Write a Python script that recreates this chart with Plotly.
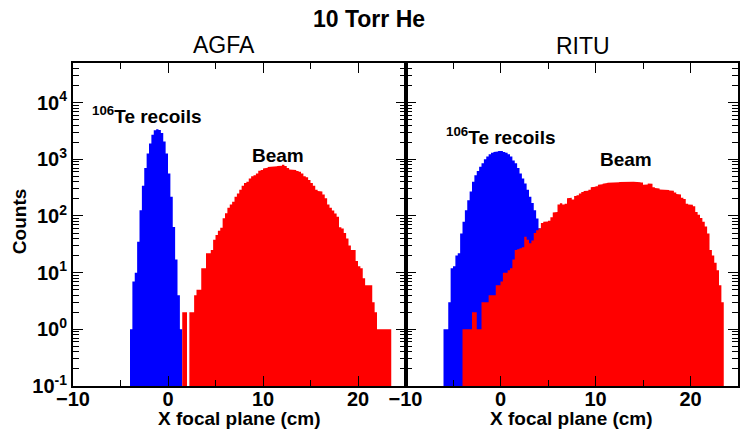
import math
import plotly.graph_objects as go
from plotly.subplots import make_subplots

# ---------------- data (counts per 0.25 cm bin) ----------------
BIN_WIDTH = 0.25

agfa_recoil_start = -4.0
agfa_recoil_counts = [1, 7, 10, 35, 126, 340, 700, 1260, 1900, 2700, 3250, 3400, 3300,
                      2900, 2050, 1260, 560, 218, 64, 17, 4, 1]

agfa_beam_start = 1.5
agfa_beam_counts = [2, 2, 0, 2, 2, 4, 5, 5, 12, 12,
                    22, 22, 25, 38, 46, 55, 62, 91, 112, 140,
                    160, 178, 218, 250, 290, 340, 380, 400, 460, 500,
                    525, 560, 630, 650, 690, 710, 730, 740, 745, 750,
                    760, 770, 800, 760, 700, 660, 660, 650, 620, 600,
                    560, 500, 480, 430, 380, 340, 290, 275, 270, 240,
                    205, 160, 140, 125, 110, 97, 63, 60, 50, 40,
                    30, 25, 25, 16, 13, 12, 8, 6, 6, 6,
                    3, 2, 1, 1, 1, 1, 1, 1]

ritu_recoil_start = -6.0
ritu_recoil_counts = [1, 1, 3, 12, 13, 20, 22, 49, 79, 126,
                      190, 270, 400, 525, 620, 740, 850, 1000, 1120, 1230,
                      1300, 1350, 1370, 1400, 1400, 1350, 1300, 1230, 1120, 950,
                      850, 700, 560, 460, 375, 290, 218, 170, 126, 90,
                      61, 58, 45, 30, 18, 10, 5, 2]

ritu_beam_start = -4.0
ritu_beam_counts = [1, 1, 1, 1, 2, 2, 1, 1, 3, 3,
                    3, 4, 4, 4, 6, 6, 7, 10, 10, 11,
                    12, 17, 25, 26, 27, 28, 43, 38, 33, 37,
                    50, 56, 60, 75, 79, 80, 82, 95, 115, 118,
                    160, 167, 160, 165, 205, 210, 195, 225, 232, 250,
                    265, 277, 280, 290, 320, 327, 335, 355, 363, 370,
                    380, 385, 390, 395, 392, 395, 398, 395, 392, 388,
                    390, 400, 402, 400, 392, 388, 355, 360, 375, 370,
                    320, 310, 305, 292, 290, 290, 288, 282, 280, 260,
                    245, 240, 210, 200, 165, 160, 158, 148, 117, 105,
                    92, 79, 65, 49, 25, 20, 15, 11, 6, 3]

x_range = [-10, 25]
x_ticks = [-10, 0, 10, 20]
x_minor_ticks = [-5, 5, 15]
y_range_counts = [0.1, 50000]
y_decades = [-1, 0, 1, 2, 3, 4]

title_text = "10 Torr He"
panel_titles = ["AGFA", "RITU"]
x_title = "X focal plane (cm)"
y_title = "Counts"

BLUE = "#0000ff"
RED = "#ff0000"
FONT = "Liberation Sans, Arial, Helvetica, sans-serif"
FLOOR = 1e-3  # below the visible range: histogram bars start from the bottom


def step_outline(start, counts):
    """Closed outline of a filled histogram built from its bin edges and counts."""
    xs, ys = [start], [FLOOR]
    for i, c in enumerate(counts):
        v = c if c > 0 else FLOOR
        xs += [start + BIN_WIDTH * i, start + BIN_WIDTH * (i + 1)]
        ys += [v, v]
    xs.append(start + BIN_WIDTH * len(counts))
    ys.append(FLOOR)
    return xs, ys


fig = make_subplots(rows=1, cols=2, shared_yaxes=True, horizontal_spacing=0)

panels = [
    (agfa_recoil_start, agfa_recoil_counts, agfa_beam_start, agfa_beam_counts),
    (ritu_recoil_start, ritu_recoil_counts, ritu_beam_start, ritu_beam_counts),
]
for col, (rs, rc, bs, bc) in enumerate(panels, start=1):
    for s, c, colr in [(rs, rc, BLUE), (bs, bc, RED)]:
        xs, ys = step_outline(s, c)
        fig.add_trace(go.Scatter(x=xs, y=ys, mode="lines", fill="toself",
                                 fillcolor=colr, line=dict(width=0, color=colr),
                                 showlegend=False, hoverinfo="skip"), row=1, col=col)

ylog = [math.log10(v) for v in y_range_counts]
y_major = [10.0 ** d for d in y_decades]
y_major_text = ["10<sup>%s</sup>" % d for d in y_decades]
y_minor = [m * 10.0 ** d for d in y_decades for m in range(2, 10) if m * 10.0 ** d <= y_range_counts[1]]

tickfont = dict(family=FONT, size=20, color="black", weight="bold")
axis_common = dict(showline=True, linewidth=2, linecolor="black", mirror="ticks",
                   ticks="inside", tickcolor="black", tickwidth=1.3,
                   showgrid=False, zeroline=False, tickfont=tickfont)

for xa in ["xaxis", "xaxis2"]:
    fig.layout[xa].update(range=x_range, tickmode="array", tickvals=x_ticks,
                          ticklen=10, ticklabelstandoff=-6,
                          minor=dict(ticks="inside", tickmode="array", tickvals=x_minor_ticks,
                                     ticklen=6, tickcolor="black", tickwidth=1.3,
                                     showgrid=False),
                          **axis_common)

for ya in ["yaxis", "yaxis2"]:
    fig.layout[ya].update(type="log", range=ylog, tickmode="array",
                          tickvals=y_major, ticktext=y_major_text, ticklen=10,
                          minor=dict(ticks="inside", tickmode="array", tickvals=y_minor,
                                     ticklen=6, tickcolor="black", tickwidth=1.3,
                                     showgrid=False),
                          **axis_common)

W, H = 741, 437
ML, MR, MT, MB = 73, 1, 63, 51
PW, PH = W - ML - MR, H - MT - MB


def px2paper(px, py):
    return (px - ML) / PW, (H - MB - py) / PH


annos = []
tx, ty = px2paper(370, 19)
annos.append(dict(text=title_text, x=tx, y=ty, font=dict(size=23, weight="bold")))
for (px, py), t in zip([(224, 45), (584.5, 46)], panel_titles):
    ax, ay = px2paper(px, py)
    annos.append(dict(text=t, x=ax, y=ay, font=dict(size=23)))
for pxc in [(ML + ML + PW / 2) / 2, ML + PW * 0.75]:
    ax, ay = px2paper(pxc, 418)
    annos.append(dict(text=x_title, x=ax, y=ay, font=dict(size=19, weight="bold")))
ax, ay = px2paper(19, 222)
annos.append(dict(text=y_title, x=ax, y=ay, textangle=-90, font=dict(size=19, weight="bold")))

# labels in data coordinates
annos.append(dict(text="<sup>106</sup>Te recoils", x=-2.2, y=3.78, xref="x", yref="y",
                  font=dict(size=19, weight="bold")))
annos.append(dict(text="Beam", x=11.6, y=3.07, xref="x", yref="y",
                  font=dict(size=19, weight="bold")))
annos.append(dict(text="<sup>106</sup>Te recoils", x=0.0, y=3.41, xref="x2", yref="y",
                  font=dict(size=19, weight="bold")))
annos.append(dict(text="Beam", x=13.17, y=2.99, xref="x2", yref="y",
                  font=dict(size=19, weight="bold")))

for a in annos:
    a.setdefault("xref", "paper")
    a.setdefault("yref", "paper")
    a["showarrow"] = False
    a["xanchor"] = "center"
    a["yanchor"] = "middle"
    a["font"].update(family=FONT, color="black")
fig.update_layout(annotations=annos)

fig.update_layout(width=W, height=H, margin=dict(l=ML, r=MR, t=MT, b=MB),
                  paper_bgcolor="white", plot_bgcolor="white",
                  font=dict(family=FONT, color="black"))

fig.write_html("out.html", config={"displayModeBar": False},
               post_script="document.body.style.margin='0';")
